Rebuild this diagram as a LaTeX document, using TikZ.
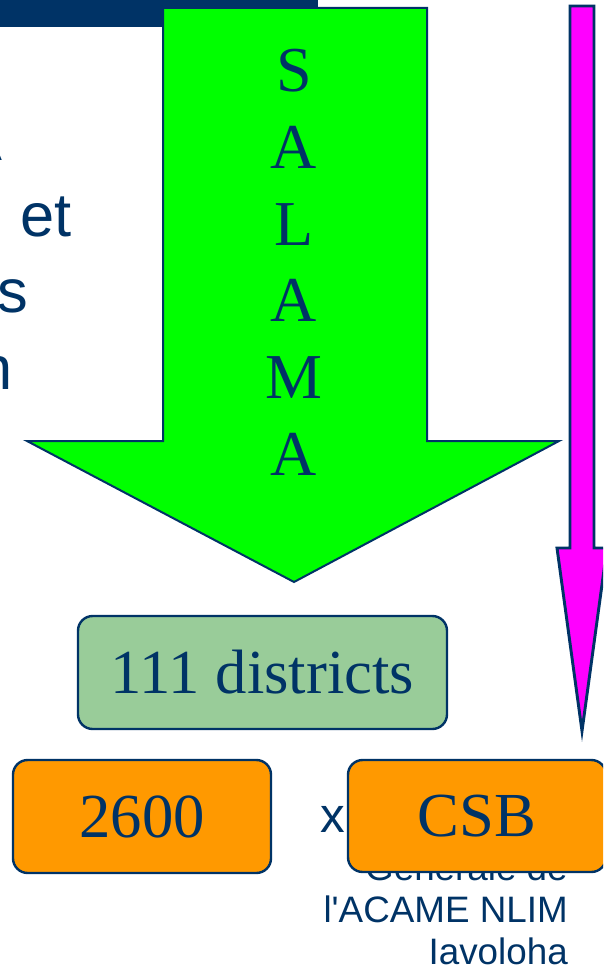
\documentclass[tikz,border=0pt]{standalone}
\usepackage{fontspec}
\setmainfont{Liberation Serif}
\newfontfamily\arialf{Liberation Sans}
\definecolor{navy}{HTML}{003366}
\definecolor{arrgreen}{HTML}{00FF00}
\definecolor{arrpink}{HTML}{FF00FF}
\definecolor{boxgreen}{HTML}{99CC99}
\definecolor{boxorange}{HTML}{FF9900}
\begin{document}
\begin{tikzpicture}[x=0.75pt,y=-0.75pt,
  outl/.style={draw=navy, line width=1.5pt, line join=miter},
  pinkoutl/.style={draw=navy, line width=2.2pt, line join=miter},
  box/.style={draw=navy, line width=1.8pt, rounded corners=11pt, inner sep=0pt,
    font=\fontsize{47}{50}\selectfont, text=navy},
  letter/.style={font=\fontsize{48}{50}\selectfont, text=navy, inner sep=0pt, anchor=base},
  sidetext/.style={font=\arialf\fontsize{46}{55}\selectfont, text=navy, inner sep=0pt, anchor=base east},
  smalltext/.style={font=\arialf\fontsize{27.6}{31}\selectfont, text=navy, inner sep=0pt, anchor=base east}]
\useasboundingbox (0,0) rectangle (603,969);
\clip (0,0) rectangle (603,969);
% title bar
\fill[navy] (0,0) rectangle (318,27);
% left text fragments
\node[sidetext] (l1) at (3,161) {A};
\node[sidetext] (l2) at (72,237) {et};
\node[sidetext] (l3) at (28,313) {s};
\node[sidetext] (l4) at (13,389) {n};
% green arrow
\draw[outl, fill=arrgreen] (163,8) -- (427,8) -- (427,441) -- (559,441) -- (294,582)
  -- (27,441) -- (163,441) -- cycle;
\foreach \c/\y [count=\i] in {S/92, A/168.6, L/245.2, A/321.8, M/398.4, A/475}
  \node[letter] (s\i) at (294,\y) {\c};
% pink arrow
\draw[pinkoutl, fill=arrpink] (570,6) -- (594,6) -- (594,548) -- (607,548) -- (582,731)
  -- (557,548) -- (570,548) -- cycle;
% boxes
\node[box, fill=boxgreen, minimum width=276.75pt, minimum height=84.75pt] (dist) at (262.5,672.5) {111 districts};
\node[box, fill=boxorange, minimum width=193.5pt, minimum height=84.75pt] (b2600) at (142,816.5) {2600};
\node[font=\arialf\fontsize{37}{40}\selectfont, text=navy, inner sep=0pt, anchor=base] (xx) at (333,832) {x};
\node[smalltext] (t1) at (568,880) {Générale de};
\node[smalltext] (t2) at (568,922) {l'ACAME NLIM};
\node[smalltext] (t3) at (568,964) {Iavoloha};
\node[box, fill=boxorange, minimum width=193.5pt, minimum height=84pt] (csb) at (477,816) {CSB};
\end{tikzpicture}
\end{document}
